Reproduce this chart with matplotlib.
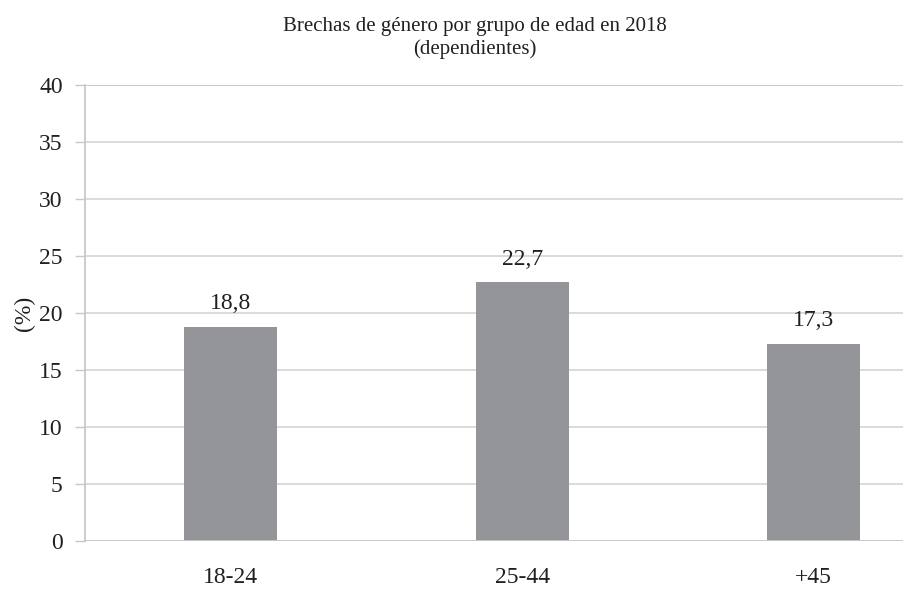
import numpy as np
import matplotlib.pyplot as plt

plt.rcParams['font.family'] = ['Liberation Serif', 'DejaVu Serif']

groups = ['18-24', '25-44', '+45']
brecha = [18.8, 22.7, 17.3]
labels = ['18,8', '22,7', '17,3']
yticks = [0, 5, 10, 15, 20, 25, 30, 35, 40]

txt = '#231f20'

fig = plt.figure(figsize=(9.04, 5.89), dpi=100)
ax = fig.add_axes([85 / 904, 48 / 589, 819 / 904, 456 / 589])

x = np.arange(len(groups))
ax.bar(x, brecha, width=0.32, color='#939598', zorder=3)

for xi, v, lab in zip(x, brecha, labels):
    ax.text(xi, v + 1.1, lab, ha='center', va='bottom', fontsize=17, color=txt)

ax.set_xlim(-0.5, 2.31)
ax.set_ylim(0, 40)
ax.set_yticks(yticks)
ax.set_yticklabels([str(t) for t in yticks], fontsize=17, color=txt)
ax.set_xticks(x)
ax.set_xticklabels(groups, fontsize=17, color=txt)
ax.tick_params(axis='x', length=0, pad=19)
ax.tick_params(axis='y', length=7, color='#c8c8c8', width=1, pad=9)

ax.yaxis.grid(True, color='#d4d4d4', linewidth=1.2, zorder=0)
ax.axhline(40, color='#999999', linewidth=1.3, zorder=1)
ax.axhline(0, color='#c8c8c8', linewidth=1.3, zorder=4)

for s in ['top', 'right', 'bottom']:
    ax.spines[s].set_visible(False)
ax.spines['left'].set_color('#c8c8c8')
ax.spines['left'].set_linewidth(1.3)

ax.set_ylabel('(%)', fontsize=17, color=txt, labelpad=3)

fig.text(475 / 904, 1 - 38 / 589, 'Brechas de género por grupo de edad en 2018\n(dependientes)',
         ha='center', va='center', fontsize=15, color=txt, linespacing=1.2)

fig.savefig('out.png', dpi=100)
